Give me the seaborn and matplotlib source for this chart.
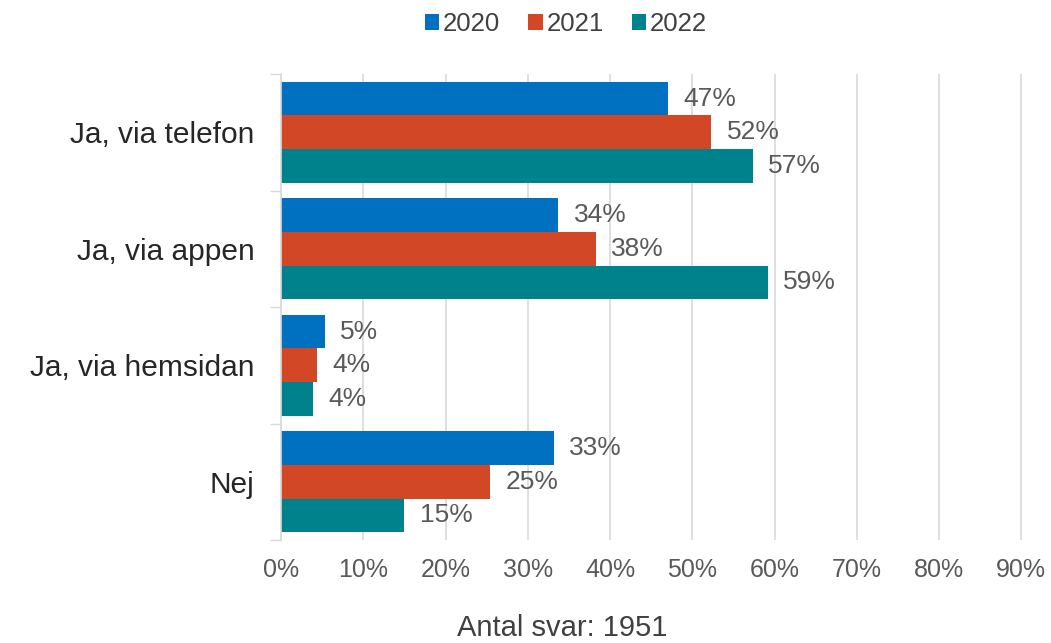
import matplotlib
matplotlib.use("Agg")
import matplotlib.pyplot as plt
from matplotlib.patches import Patch
import pandas as pd
import seaborn as sns

# Survey answers per year (share of respondents, %)
categories = ["Ja, via telefon", "Ja, via appen", "Ja, via hemsidan", "Nej"]
years = ["2020", "2021", "2022"]
values_2020 = [47.0, 33.7, 5.3, 33.2]
values_2021 = [52.3, 38.3, 4.4, 25.4]
values_2022 = [57.4, 59.2, 3.9, 15.0]
x_ticks = [0, 10, 20, 30, 40, 50, 60, 70, 80, 90]
colors = ["#0070C0", "#D24726", "#00828C"]
footer = "Antal svar: 1951"

rows = []
for year, vals in zip(years, [values_2020, values_2021, values_2022]):
    for cat, v in zip(categories, vals):
        rows.append({"Svar": cat, "Andel": v, "År": year})
df = pd.DataFrame(rows)

sns.set_theme(style="white")
plt.rcParams["font.family"] = ["Liberation Sans", "DejaVu Sans"]

fig = plt.figure(figsize=(10.51, 6.43), dpi=100)
ax = fig.add_axes([281 / 1051, 1 - 540 / 643, (1046 - 281) / 1051, (540 - 74) / 643])

sns.barplot(data=df, y="Svar", x="Andel", hue="År", orient="h",
            order=categories, hue_order=years, palette=colors,
            width=0.867, linewidth=0, saturation=1, ax=ax, legend=False)

for cont in ax.containers:
    vals = [b.get_width() for b in cont]
    ax.bar_label(cont, labels=[f"{v:.0f}%" for v in vals], padding=11,
                 fontsize=19, color="#595959")

ax.set_xlim(0, 93)
ax.set_ylim(len(categories) - 0.5, -0.5)
ax.set_xticks(x_ticks)
ax.set_xticklabels([f"{t}%" for t in x_ticks])
ax.tick_params(axis="x", length=0, pad=13, labelsize=18, labelcolor="#595959")
ax.tick_params(axis="y", which="major", length=0, pad=19, labelsize=21.5,
               labelcolor="#262626")
ax.set_yticks([i - 0.5 for i in range(len(categories) + 1)], minor=True)
ax.tick_params(axis="y", which="minor", left=True, length=8, width=1,
               color="#D9D9D9")
ax.set_xlabel("")
ax.set_ylabel("")

ax.grid(axis="x", color="#D9D9D9", linewidth=1.2)
ax.grid(axis="y", visible=False)
ax.set_axisbelow(True)
for side in ["top", "right", "bottom"]:
    ax.spines[side].set_visible(False)
ax.spines["left"].set_color("#D9D9D9")
ax.spines["left"].set_linewidth(1.2)

handles = [Patch(facecolor=c, edgecolor="none", label=y) for c, y in zip(colors, years)]
fig.legend(handles=handles, loc="center", bbox_to_anchor=(566 / 1051, 1 - 24 / 643),
           ncol=3, frameon=False, fontsize=18.5, handlelength=0.55, handleheight=0.55,
           handletextpad=0.15, columnspacing=1.1, labelcolor="#404040")

fig.text(562 / 1051, 1 - 628 / 643, footer, ha="center", va="center",
         fontsize=21, color="#404040")

fig.savefig("out.png", dpi=100, facecolor="white")
